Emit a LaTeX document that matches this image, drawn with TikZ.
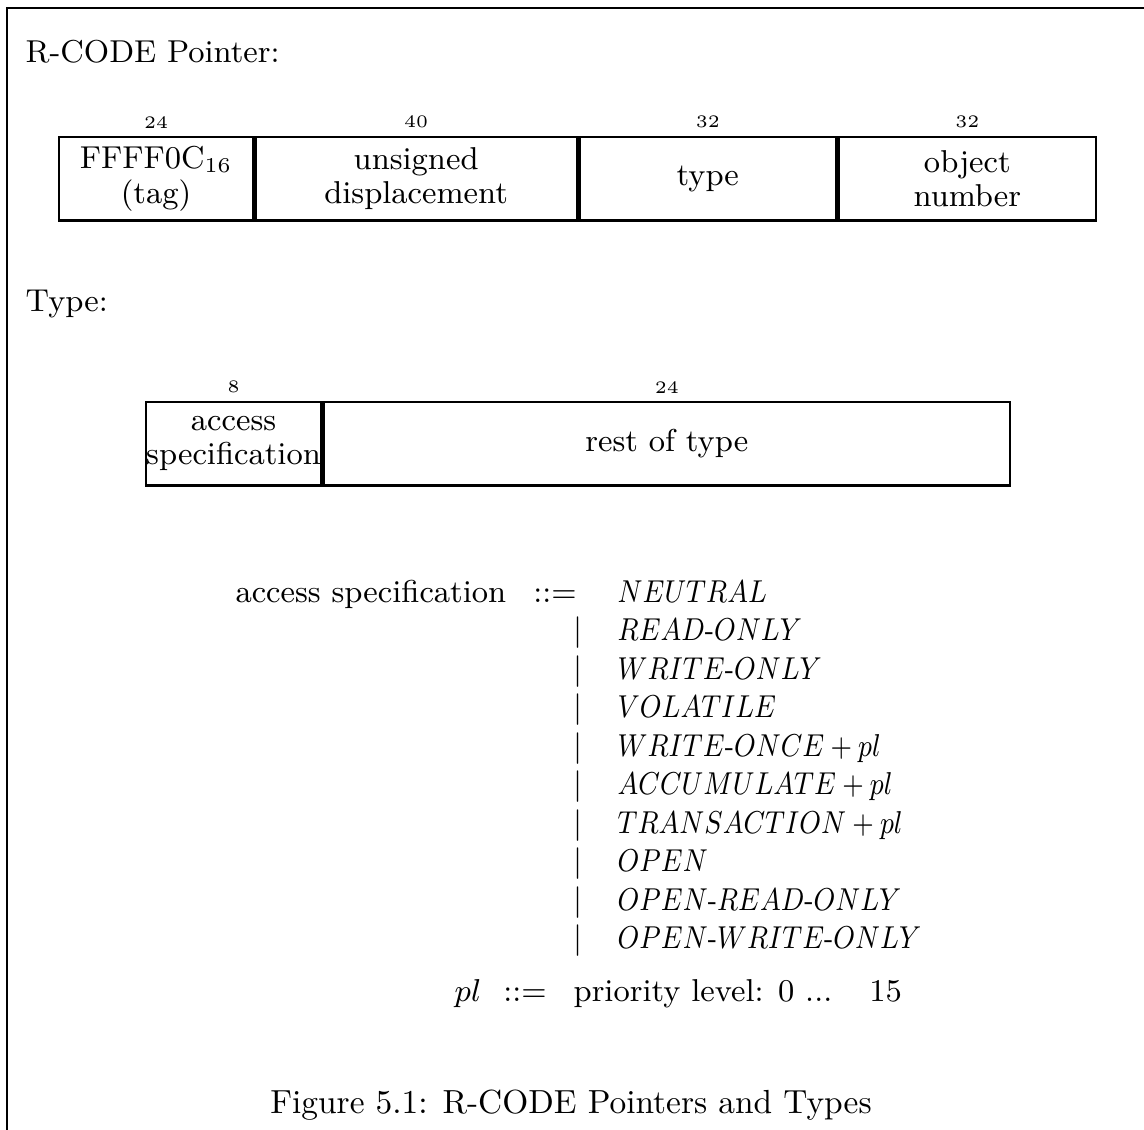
\documentclass[tikz,border=0pt]{standalone}
\usepackage{amsmath, amssymb}
\usepackage{tikz}
\usetikzlibrary{positioning}

\newcommand{\accname}[1]{\scalebox{0.85}[1]{#1}}

\begin{document}
\begin{tikzpicture}[x=0.01cm, y=-0.01cm,
    every node/.style={font=\fontsize{9}{9.7}\selectfont, inner sep=0pt},
    field/.style={draw, line width=0.7pt, minimum height=0.83cm, align=center},
    bits/.style={font=\fontsize{5}{6}\selectfont},
    heading/.style={anchor=base west},
    alt/.style={anchor=base west},
    bar/.style={anchor=base}]
    \useasboundingbox (0,0) rectangle (1144,1130);

    % frame (top and left only)
    \coordinate (framebl) at (7,1130);
    \coordinate (frametl) at (7,8);
    \coordinate (frametr) at (1144,8);
    \draw[line width=0.6pt] (framebl) -- (frametl) -- (frametr);

    % pointer layout
    \node[heading] (ptrhead) at (25,62) {R-CODE Pointer:};

    \node[field, minimum width=1.935cm, anchor=north west] (tag) at (58,136) {FFFF0C$_{16}$\\(tag)};
    \node[field, minimum width=3.215cm] (disp) [right=0pt of tag] {unsigned\\displacement};
    \node[field, minimum width=2.565cm] (ptype) [right=0pt of disp] {type};
    \node[field, minimum width=2.575cm] (objnum) [right=0pt of ptype] {object\\number};

    \node[bits] (tagbits) [above=0.07cm of tag] {24};
    \node[bits] (dispbits) [above=0.07cm of disp] {40};
    \node[bits] (ptypebits) [above=0.07cm of ptype] {32};
    \node[bits] (objnumbits) [above=0.07cm of objnum] {32};

    % type layout
    \node[heading] (typehead) at (25,311) {Type:};

    \node[field, minimum width=1.705cm, anchor=north west] (access) at (145,401) {access\\specification};
    \node[field, minimum width=6.865cm] (rest) [right=0pt of access] {rest of type};

    \node[bits] (accessbits) [above=0.07cm of access] {8};
    \node[bits] (restbits) [above=0.07cm of rest] {24};

    % grammar
    \node[anchor=base east] (lhs) at (507,602) {access specification};
    \node[anchor=base] (def) at (555,602) {$::=$};
    \foreach \alt [count=\i from 0] in {$NEUTRAL$, $READ$-$ONLY$, $WRITE$-$ONLY$, $VOLATILE$,
        $WRITE$-$ONCE + pl$, $ACCUMULATE + pl$, $TRANSACTION + pl$, $OPEN$,
        $OPEN$-$READ$-$ONLY$, $OPEN$-$WRITE$-$ONLY$}
        \node[alt] (alt\i) at (617,{602+38.5*\i}) {\accname{\alt}};
    \foreach \i in {1,...,9}
        \node[bar] (bar\i) at (578,{602+38.5*\i}) {$|$};

    \node[anchor=base east] (plname) at (482,1001) {$pl$};
    \node[anchor=base] (pldef) at (525,1001) {$::=$};
    \node[anchor=base west] (plrange) at (573,1001) {priority level: 0 ...\quad\,15};

    \node[anchor=base, font=\fontsize{9.5}{11}\selectfont] (caption) at (571,1113) {Figure 5.1: R-CODE Pointers and Types};
\end{tikzpicture}
\end{document}
